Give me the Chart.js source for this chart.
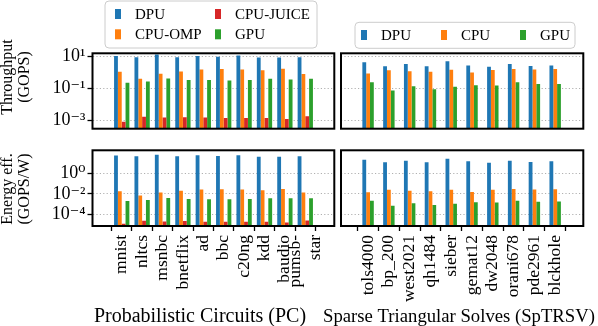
<!DOCTYPE html>
<html>
<head>
<meta charset="utf-8">
<script src="https://cdn.jsdelivr.net/npm/chart.js@4.4.1/dist/chart.umd.min.js"></script>
<style>
  html, body { margin: 0; padding: 0; background: #fff; }
  #wrap { position: relative; width: 598px; height: 326px; overflow: hidden; }
  #wrap canvas { position: absolute; left: 0; top: 0; }
</style>
</head>
<body>
<div id="wrap">
  <canvas id="pcThr" width="598" height="326"></canvas>
  <canvas id="trsvThr" width="598" height="326"></canvas>
  <canvas id="pcEff" width="598" height="326"></canvas>
  <canvas id="trsvEff" width="598" height="326"></canvas>
</div>
<script>
// benchmark names
const pcNames = ['mnist', 'nltcs', 'msnbc', 'bnetflix', 'ad', 'bbc', 'c20ng', 'kdd', 'baudio', ['pumsb-', 'star']];
const trsvNames = ['tols4000', 'bp_200', 'west2021', 'qh1484', 'sieber', 'gemat12', 'dw2048', 'orani678', 'pde2961', 'blckhole'];

// throughput (GOPS), Probabilistic Circuits
const pcThrDpu = [11.0, 9.1, 13.5, 9.1, 11.0, 10.0, 12.0, 8.7, 8.7, 9.1];
const pcThrOmp = [1.12, 0.41, 0.85, 1.17, 1.58, 1.66, 1.58, 1.38, 1.74, 0.81];
const pcThrJuice = [0.00083, 0.0017, 0.0015, 0.00155, 0.0015, 0.0014, 0.0014, 0.0014, 0.0012, 0.0018];
const pcThrGpu = [0.23, 0.28, 0.43, 0.34, 0.34, 0.32, 0.34, 0.41, 0.37, 0.41];

// throughput (GOPS), SpTRSV
const trsvThrDpu = [4.4, 2.5, 3.5, 2.5, 5.1, 2.8, 2.3, 3.5, 2.6, 2.8];
const trsvThrCpu = [0.89, 1.38, 1.23, 1.12, 1.51, 1.02, 1.45, 1.66, 1.58, 1.66];
const trsvThrGpu = [0.25, 0.074, 0.14, 0.091, 0.13, 0.16, 0.155, 0.25, 0.19, 0.195];

// energy efficiency (GOPS/W), Probabilistic Circuits
const pcEffDpu = [48, 41, 59, 41, 51, 45, 51, 38, 38, 41];
const pcEffOmp = [0.018, 0.0069, 0.0135, 0.0195, 0.026, 0.028, 0.026, 0.022, 0.030, 0.0135];
const pcEffJuice = [1.35e-5, 2.6e-5, 2.2e-5, 2.45e-5, 2.1e-5, 2.1e-5, 2.1e-5, 2.1e-5, 1.8e-5, 2.8e-5];
const pcEffGpu = [0.0021, 0.0026, 0.0041, 0.0033, 0.0030, 0.0030, 0.0033, 0.0038, 0.0038, 0.0038];

// energy efficiency (GOPS/W), SpTRSV
const trsvEffDpu = [19.5, 10.7, 15.5, 10.7, 24.5, 13.5, 10.0, 15.5, 11.5, 13.5];
const trsvEffCpu = [0.0145, 0.0245, 0.0195, 0.018, 0.0245, 0.0155, 0.0245, 0.030, 0.026, 0.028];
const trsvEffGpu = [0.0022, 0.00074, 0.00126, 0.00087, 0.00115, 0.00155, 0.00145, 0.0022, 0.0017, 0.0018];

// axis ticks
const thrTicks = [1e-3, 1e-1, 1e1];
const effTicks = [1e-4, 1e-2, 1e0];

const FONT = "'Liberation Serif', 'DejaVu Serif', serif";
const W = 598, H = 326;
const BLUE = '#1f77b4', ORANGE = '#ff7f0e', RED = '#d62728', GREEN = '#2ca02c';

const SUP = { '-': '\u207B', '0': '\u2070', '1': '\u00B9', '2': '\u00B2', '3': '\u00B3', '4': '\u2074' };
function powLabel(v) {
    const e = Math.round(Math.log10(v));
    return '10' + String(e).split('').map(c => SUP[c]).join('');
}

// black frame round the plot area
const framePlugin = {
    id: 'frame',
    afterDatasetsDraw(chart) {
        const { ctx, chartArea: a } = chart;
        ctx.save();
        ctx.strokeStyle = '#000';
        ctx.lineWidth = 2;
        ctx.strokeRect(a.left, a.top, a.right - a.left, a.bottom - a.top);
        ctx.restore();
    }
};

// centre two-line tick labels on their tick, like matplotlib
const tickCenterPlugin = {
    id: 'tickCenter',
    beforeDraw(chart) {
        const sc = chart.scales.x;
        if (!sc.options.display) return;
        sc.getLabelItems().forEach(item => {
            if (Array.isArray(item.label) && !item._moved) {
                item.options.translation[0] -= item.font.lineHeight * (item.label.length - 1) / 2;
                item._moved = true;
            }
        });
    }
};

// legend box drawn from the dataset labels and colours
const boxLegendPlugin = {
    id: 'boxLegend',
    afterDraw(chart, args, opts) {
        if (!opts.show) return;
        const { ctx } = chart;
        const sets = chart.data.datasets;
        ctx.save();
        ctx.beginPath();
        ctx.roundRect(opts.x, opts.y, opts.w, opts.h, 4);
        ctx.fillStyle = 'rgba(255,255,255,0.8)';
        ctx.fill();
        ctx.strokeStyle = '#cccccc';
        ctx.lineWidth = 1;
        ctx.stroke();
        ctx.font = '15px ' + FONT;
        ctx.textBaseline = 'middle';
        ctx.textAlign = 'left';
        sets.forEach((ds, i) => {
            const col = Math.floor(i / opts.rowY.length);
            const row = i % opts.rowY.length;
            const mx = opts.colX[col], my = opts.rowY[row];
            ctx.fillStyle = ds.backgroundColor;
            ctx.fillRect(mx, my - 5, 6, 10);
            ctx.fillStyle = '#000';
            ctx.fillText(ds.label, mx + 20, my + 1);
        });
        ctx.restore();
    }
};

// free-standing axis titles (y titles rotated, group titles under the ticks)
const titlesPlugin = {
    id: 'titles',
    afterDraw(chart, args, opts) {
        const { ctx } = chart;
        (opts.items || []).forEach(t => {
            ctx.save();
            ctx.translate(t.x, t.y);
            if (t.rotate) ctx.rotate(-Math.PI / 2);
            ctx.font = t.size + 'px ' + FONT;
            ctx.fillStyle = '#000';
            ctx.textAlign = t.align || 'center';
            ctx.textBaseline = 'middle';
            const lh = t.size * 1.05;
            t.lines.forEach((s, i) => {
                ctx.fillText(s, 0, (i - (t.lines.length - 1) / 2) * lh);
            });
            ctx.restore();
        });
    }
};

function makePanel(id, cfg) {
    const a = cfg.area;
    const yW = cfg.yLabels ? a.l : 0;
    const xH = cfg.names && cfg.xLabels ? H - a.b : 0;
    return new Chart(document.getElementById(id), {
        type: 'bar',
        data: {
            datasets: cfg.series.map(s => ({
                label: s.label,
                data: s.values.map((v, i) => ({ x: i, y: v })),
                backgroundColor: s.color,
                borderWidth: 0
            }))
        },
        options: {
            responsive: false,
            animation: false,
            events: [],
            layout: { padding: { left: a.l - yW, top: a.t, right: W - a.r, bottom: H - a.b - xH } },
            datasets: { bar: { categoryPercentage: cfg.catPct, barPercentage: 1 } },
            plugins: {
                legend: { display: false },
                tooltip: { enabled: false },
                boxLegend: cfg.legend || { show: false },
                titles: { items: cfg.titles || [] }
            },
            scales: {
                x: {
                    type: 'linear',
                    min: cfg.xMin,
                    max: cfg.xMax,
                    display: cfg.xLabels,
                    afterBuildTicks: s => { s.ticks = cfg.names.map((n, i) => ({ value: i })); },
                    afterFit: s => { s.height = xH; },
                    grid: { display: true, drawOnChartArea: false, drawTicks: true, tickLength: 5, tickColor: '#000', tickWidth: 1.3 },
                    border: { display: false },
                    ticks: {
                        autoSkip: false, minRotation: 90, maxRotation: 90, padding: 4,
                        color: '#000', font: { family: FONT, size: 17.5, lineHeight: 1.15 },
                        callback: v => cfg.names[v]
                    }
                },
                y: {
                    type: 'logarithmic',
                    min: cfg.yMin,
                    max: cfg.yMax,
                    afterBuildTicks: s => { s.ticks = cfg.yTicks.map(v => ({ value: v })); },
                    afterFit: s => { s.width = yW; },
                    grid: {
                        color: '#b0b0b0', lineWidth: 1, drawTicks: cfg.yLabels, tickLength: 5,
                        tickColor: '#000', tickWidth: 1.3, tickBorderDash: []
                    },
                    border: { display: false, dash: [1.2, 2.2] },
                    ticks: {
                        display: cfg.yLabels, padding: 2, color: '#000',
                        font: { family: FONT, size: 18 },
                        callback: v => powLabel(v)
                    }
                }
            }
        },
        plugins: [framePlugin, tickCenterPlugin, boxLegendPlugin, titlesPlugin]
    });
}

const leftArea = { l: 92.5, r: 334.3 };
const rightArea = { l: 341, r: 583.3 };
const topRow = { t: 53.3, b: 128.7 };
const botRow = { t: 150.3, b: 226 };

makePanel('pcThr', {
    area: { ...leftArea, ...topRow }, yLabels: true, xLabels: false,
    names: pcNames, xMin: -0.84, xMax: 9.83, catPct: 0.75,
    yMin: Math.pow(10, -3.5), yMax: Math.pow(10, 1.21), yTicks: thrTicks,
    series: [
        { label: 'DPU', values: pcThrDpu, color: BLUE },
        { label: 'CPU-OMP', values: pcThrOmp, color: ORANGE },
        { label: 'CPU-JUICE', values: pcThrJuice, color: RED },
        { label: 'GPU', values: pcThrGpu, color: GREEN }
    ],
    legend: { show: true, x: 105, y: 1, w: 212, h: 47, colX: [115, 215], rowY: [14, 34.3] },
    titles: [{ lines: ['Throughput', '(GOPS)'], x: 16, y: 77, size: 16, rotate: true }]
});

makePanel('trsvThr', {
    area: { ...rightArea, ...topRow }, yLabels: false, xLabels: false,
    names: trsvNames, xMin: -0.72, xMax: 9.77, catPct: 0.55,
    yMin: Math.pow(10, -3.5), yMax: Math.pow(10, 1.21), yTicks: thrTicks,
    series: [
        { label: 'DPU', values: trsvThrDpu, color: BLUE },
        { label: 'CPU', values: trsvThrCpu, color: ORANGE },
        { label: 'GPU', values: trsvThrGpu, color: GREEN }
    ],
    legend: { show: true, x: 355, y: 22.3, w: 220, h: 26, colX: [361, 441, 520], rowY: [35] }
});

makePanel('pcEff', {
    area: { ...leftArea, ...botRow }, yLabels: true, xLabels: true,
    names: pcNames, xMin: -0.84, xMax: 9.83, catPct: 0.75,
    yMin: Math.pow(10, -5.09), yMax: Math.pow(10, 2.19), yTicks: effTicks,
    series: [
        { label: 'DPU', values: pcEffDpu, color: BLUE },
        { label: 'CPU-OMP', values: pcEffOmp, color: ORANGE },
        { label: 'CPU-JUICE', values: pcEffJuice, color: RED },
        { label: 'GPU', values: pcEffGpu, color: GREEN }
    ],
    titles: [
        { lines: ['Energy eff.', '(GOPS/W)'], x: 16, y: 189, size: 16, rotate: true },
        { lines: ['Probabilistic Circuits (PC)'], x: 200, y: 317, size: 20 }
    ]
});

makePanel('trsvEff', {
    area: { ...rightArea, ...botRow }, yLabels: false, xLabels: true,
    names: trsvNames, xMin: -0.72, xMax: 9.77, catPct: 0.55,
    yMin: Math.pow(10, -5.09), yMax: Math.pow(10, 2.19), yTicks: effTicks,
    series: [
        { label: 'DPU', values: trsvEffDpu, color: BLUE },
        { label: 'CPU', values: trsvEffCpu, color: ORANGE },
        { label: 'GPU', values: trsvEffGpu, color: GREEN }
    ],
    titles: [{ lines: ['Sparse Triangular Solves (SpTRSV)'], x: 459, y: 317, size: 18.7 }]
});
</script>
</body>
</html>
